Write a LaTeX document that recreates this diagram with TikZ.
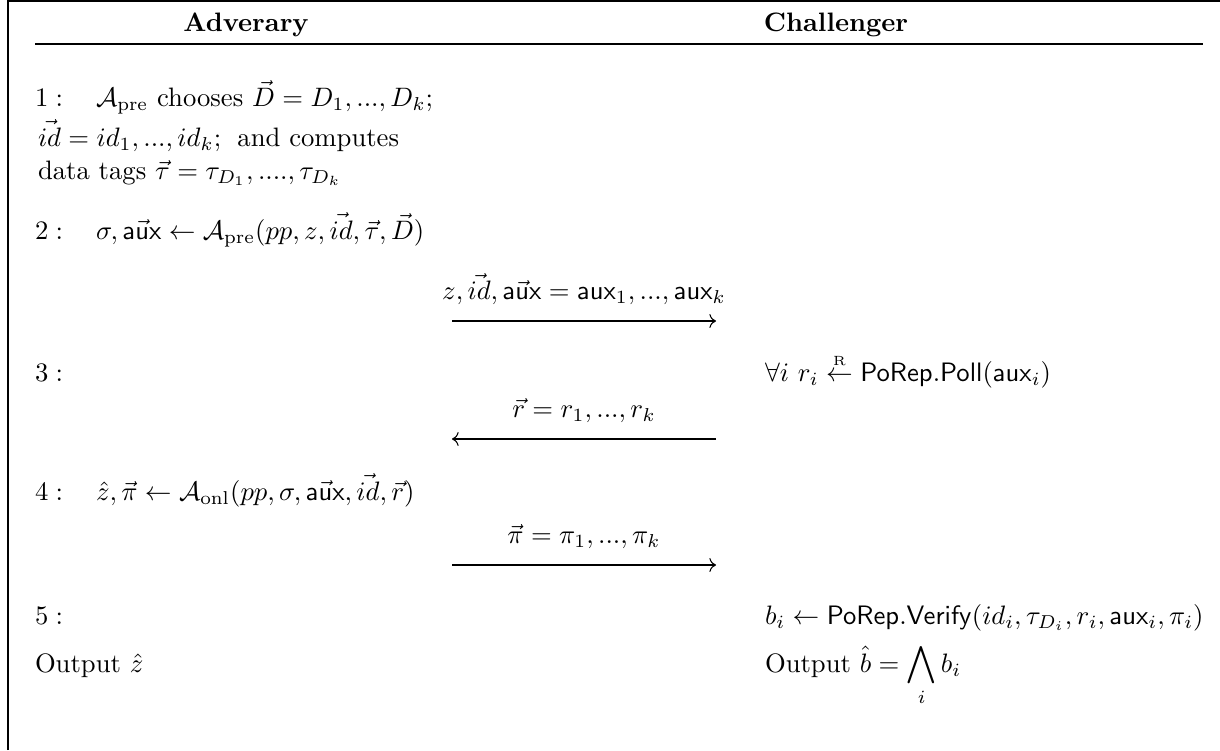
\documentclass[tikz,border=0pt]{standalone}
\usepackage{amsmath, amssymb}
\usepackage{tikz}
\usetikzlibrary{arrows, arrows.meta, positioning, calc}
\newcommand{\sampleR}{\mathrel{\overset{\scriptscriptstyle\mathrm{R}}{\leftarrow}}}
\tikzset{
  >=To,  % frecce sottili
  % Testo del protocollo
  txt/.style={anchor=base west,inner sep=0pt,outer sep=0pt},
  stepno/.style={txt},
  head/.style={anchor=base,inner sep=0pt,font=\bfseries},
  % Messaggi
  msg/.style={->,line width=0.4pt},
  msglabel/.style={anchor=base,inner sep=0pt,yshift=8pt}
}

\begin{document}
\begin{tikzpicture}[x=0.375pt,y=-0.375pt]
    \useasboundingbox (0,0) rectangle (1220,750);
    % cornice
    \draw[line width=0.5pt] (8,750) -- (8,1) -- (1220,1);
    % intestazione
    \node[head] (adv) at (246,31) {Adverary};
    \node[head] (chal) at (836,31) {Challenger};
    \draw[line width=0.5pt] (35,44) -- (1203,44);
    % passo 1
    \node[stepno] (n1) at (35,106) {$1:$};
    \node[txt] (s1) at (96,106) {$\mathcal{A}_{\mathrm{pre}}$ chooses $\vec{D} = D_1, ..., D_k$;};
    \node[txt] (s1b) at (38,146) {$\vec{id} = id_1, ..., id_k;\;$ and computes};
    \node[txt] (s1c) at (38,179) {data tags $\vec{\tau} = \tau_{D_1}, ...., \tau_{D_k}$};
    % passo 2
    \node[stepno] (n2) at (35,239) {$2:$};
    \node[txt] (s2) at (96,239) {$\sigma, \vec{\mathsf{aux}} \leftarrow \mathcal{A}_{\mathrm{pre}}(pp, z, \vec{id}, \vec{\tau}, \vec{D})$};
    \coordinate (m1l) at (452,321);
    \coordinate (m1r) at (716,321);
    \draw[msg] (m1l) -- node[msglabel] {$z, \vec{id}, \vec{\mathsf{aux}} = \mathsf{aux}_1, ..., \mathsf{aux}_k$} (m1r);
    % passo 3
    \node[stepno] (n3) at (35,381) {$3:$};
    \node[txt] (s3) at (765,381) {$\forall i\ r_i \sampleR \mathsf{PoRep.Poll}(\mathsf{aux}_i)$};
    \coordinate (m2l) at (452,439);
    \coordinate (m2r) at (716,439);
    \draw[msg] (m2r) -- node[msglabel] {$\vec{r} = r_1, ..., r_k$} (m2l);
    % passo 4
    \node[stepno] (n4) at (35,500) {$4:$};
    \node[txt] (s4) at (96,500) {$\hat{z}, \vec{\pi} \leftarrow \mathcal{A}_{\mathrm{onl}}(pp, \sigma, \vec{\mathsf{aux}}, \vec{id}, \vec{r})$};
    \coordinate (m3l) at (452,565);
    \coordinate (m3r) at (716,565);
    \draw[msg] (m3l) -- node[msglabel] {$\vec{\pi} = \pi_1, ..., \pi_k$} (m3r);
    % passo 5
    \node[stepno] (n5) at (35,624) {$5:$};
    \node[txt] (s5) at (765,624) {$b_i \leftarrow \mathsf{PoRep.Verify}(id_i, \tau_{D_i}, r_i, \mathsf{aux}_i, \pi_i)$};
    % uscite
    \node[txt] (outa) at (35,672) {Output $\hat{z}$};
    \node[txt] (outc) at (765,672) {Output $\hat{b} = \displaystyle\bigwedge_i b_i$};
  \end{tikzpicture}
\end{document}
